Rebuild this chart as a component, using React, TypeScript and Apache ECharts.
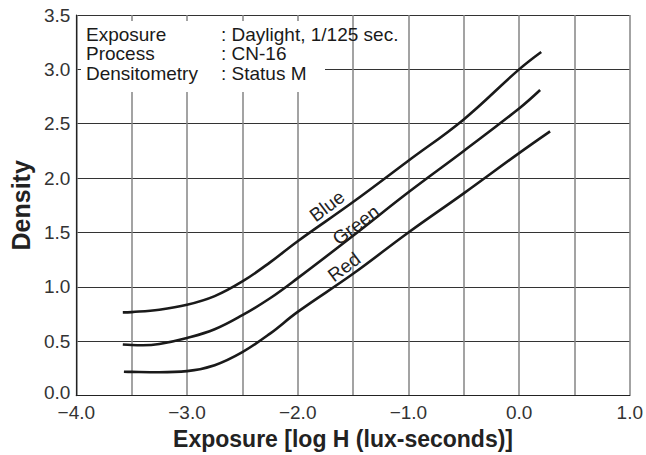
import React, { useEffect, useRef } from "react";
import * as echarts from "echarts";

const blueCurve: [number, number][] = [
  [-3.58, 0.765], [-3.5, 0.768], [-3.25, 0.79], [-3.0, 0.835], [-2.75, 0.915],
  [-2.5, 1.05], [-2.25, 1.225], [-2.0, 1.42], [-1.5, 1.78], [-1.0, 2.16],
  [-0.5, 2.54], [0.0, 3.0], [0.2, 3.16],
];
const greenCurve: [number, number][] = [
  [-3.58, 0.47], [-3.5, 0.465], [-3.4, 0.463], [-3.25, 0.475], [-3.0, 0.53],
  [-2.75, 0.61], [-2.5, 0.74], [-2.25, 0.895], [-2.0, 1.08], [-1.5, 1.47],
  [-1.0, 1.87], [-0.5, 2.25], [0.0, 2.64], [0.19, 2.81],
];
const redCurve: [number, number][] = [
  [-3.57, 0.22], [-3.5, 0.218], [-3.25, 0.215], [-3.0, 0.225], [-2.75, 0.28],
  [-2.5, 0.4], [-2.25, 0.57], [-2.0, 0.77], [-1.5, 1.12], [-1.0, 1.5],
  [-0.5, 1.86], [0.0, 2.23], [0.28, 2.43],
];

const xRange = [-4.0, 1.0];
const yRange = [0.0, 3.5];
const infoKeys = ["Exposure", "Process", "Densitometry"];
const infoValues = [": Daylight, 1/125 sec.", ": CN-16", ": Status M"];
const curveLabels = ["Blue", "Green", "Red"];

const FONT = "'Liberation Sans', Arial, Helvetica, sans-serif";

function fmt(v: number): string {
  return v < 0 ? "\u2212" + Math.abs(v).toFixed(1) : v.toFixed(1);
}

export default function App() {
  const ref = useRef<HTMLDivElement>(null);
  useEffect(() => {
    if (!ref.current) return;
    const chart = echarts.init(ref.current, null, { renderer: "svg" });
    const lineStyle = { color: "#1a1a1a", width: 2.6 };
    const labelPos = [
      [327, 206],
      [356, 225],
      [344, 267],
    ];
    const rot = (37 * Math.PI) / 180;
    chart.setOption({
      animation: false,
      backgroundColor: "#ffffff",
      grid: { left: 75, right: 12, top: 15, bottom: 58, containLabel: false },
      xAxis: {
        type: "value",
        min: xRange[0],
        max: xRange[1],
        interval: 0.5,
        name: "Exposure [log H (lux-seconds)]",
        nameLocation: "middle",
        nameGap: 28,
        nameTextStyle: {
          fontFamily: FONT,
          fontWeight: "bold",
          fontSize: 23,
          color: "#222",
          padding: [0, 20, 0, 0],
        },
        axisLine: { show: true, onZero: false, lineStyle: { color: "#222", width: 1.2 } },
        axisTick: { show: false },
        axisLabel: {
          fontFamily: FONT,
          fontSize: 19,
          lineHeight: 14,
          color: "#333",
          margin: 10,
          formatter: (v: number) => (Math.abs(v * 2) % 2 === 0 ? fmt(v) : ""),
        },
        splitLine: { show: true, lineStyle: { color: "#858585", width: 1.5 } },
      },
      yAxis: {
        type: "value",
        min: yRange[0],
        max: yRange[1],
        interval: 0.5,
        name: "Density",
        nameLocation: "middle",
        nameGap: 38,
        nameRotate: 90,
        nameTextStyle: {
          fontFamily: FONT,
          fontWeight: "bold",
          fontSize: 25,
          color: "#222",
        },
        axisLine: { show: true, onZero: false, lineStyle: { color: "#222", width: 1.2 } },
        axisTick: { show: false },
        axisLabel: {
          fontFamily: FONT,
          fontSize: 19,
          lineHeight: 14,
          color: "#333",
          margin: 6,
          formatter: (v: number) => (v === 0 ? "{z|" + fmt(v) + "}" : fmt(v)),
          rich: {
            z: {
              fontFamily: FONT,
              fontSize: 19,
              lineHeight: 14,
              color: "#333",
              padding: [0, 0, 7, 0],
            },
          },
        },
        splitLine: { show: true, lineStyle: { color: "#333", width: 1 } },
      },
      series: [
        { name: "Blue", type: "line", data: blueCurve, smooth: 0.4, showSymbol: false, lineStyle, z: 3 },
        { name: "Green", type: "line", data: greenCurve, smooth: 0.4, showSymbol: false, lineStyle, z: 3 },
        { name: "Red", type: "line", data: redCurve, smooth: 0.4, showSymbol: false, lineStyle, z: 3 },
      ],
      graphic: [
        {
          type: "rect",
          z: 5,
          shape: { x: 81, y: 21, width: 244, height: 71 },
          style: { fill: "#ffffff" },
        },
        ...infoKeys.map((k, i) => ({
          type: "text",
          z: 6,
          x: 86,
          y: 34 + i * 19.5,
          style: {
            text: k,
            font: `19px ${FONT}`,
            fill: "#1a1a1a",
            align: "left",
            verticalAlign: "middle",
          },
        })),
        ...infoValues.map((v, i) => ({
          type: "text",
          z: 6,
          x: 221,
          y: 34 + i * 19.5,
          style: {
            text: v,
            font: `19px ${FONT}`,
            fill: "#1a1a1a",
            align: "left",
            verticalAlign: "middle",
          },
        })),
        ...curveLabels.map((t, i) => ({
          type: "text",
          z: 6,
          x: labelPos[i][0],
          y: labelPos[i][1],
          rotation: rot,
          style: {
            text: t,
            font: `19px ${FONT}`,
            fill: "#222",
            align: "center",
            verticalAlign: "middle",
          },
        })),
      ],
    });
    return () => chart.dispose();
  }, []);
  return <div ref={ref} style={{ width: 646, height: 455, position: "absolute", left: 0, top: 0 }} />;
}
